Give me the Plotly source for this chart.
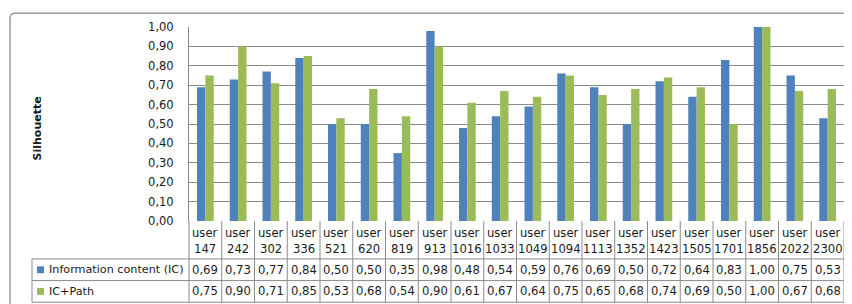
import plotly.graph_objects as go

users = ["147", "242", "302", "336", "521", "620", "819", "913", "1016", "1033",
         "1049", "1094", "1113", "1352", "1423", "1505", "1701", "1856", "2022", "2300"]
categories = ["user " + u for u in users]
ic_values = [0.69, 0.73, 0.77, 0.84, 0.50, 0.50, 0.35, 0.98, 0.48, 0.54,
             0.59, 0.76, 0.69, 0.50, 0.72, 0.64, 0.83, 1.00, 0.75, 0.53]
icpath_values = [0.75, 0.90, 0.71, 0.85, 0.53, 0.68, 0.54, 0.90, 0.61, 0.67,
                 0.64, 0.75, 0.65, 0.68, 0.74, 0.69, 0.50, 1.00, 0.67, 0.68]
series_names = ["Information content (IC)", "IC+Path"]
series_colors = ["#4F81BD", "#9BBB59"]
y_title = "Silhouette"

W, H = 852, 304
PL, PR, PT, PB = 181, 836, 16, 213
FONT = "DejaVu Sans"
GRID = "#8a8a8a"
TXT = "#1a1a1a"
TS = 11.6


def px(x):
    return (x - PL) / (PR - PL)


def py(y):
    return (PB - y) / (PB - PT)


fig = go.Figure()
for name, vals, col in zip(series_names, [ic_values, icpath_values], series_colors):
    fig.add_trace(go.Bar(x=categories, y=vals, name=name, marker_color=col,
                         marker_line_width=0, showlegend=False))

n = len(categories)
shapes = []
# table geometry (pixels)
hdr_bot, r1_bot, r2_bot = 251.5, 273.5, 295.5
tbl_left = 24
for i in range(n + 1):
    shapes.append(dict(type="line", xref="paper", yref="paper",
                       x0=i / n, x1=i / n, y0=py(PB), y1=py(r2_bot),
                       line=dict(color=GRID, width=1)))
for yy in [hdr_bot, r1_bot, r2_bot]:
    shapes.append(dict(type="line", xref="paper", yref="paper",
                       x0=px(tbl_left), x1=1, y0=py(yy), y1=py(yy),
                       line=dict(color=GRID, width=1)))
shapes.append(dict(type="line", xref="paper", yref="paper",
                   x0=px(tbl_left), x1=px(tbl_left), y0=py(hdr_bot), y1=py(r2_bot),
                   line=dict(color=GRID, width=1)))

annotations = []
row_centers = [(hdr_bot + r1_bot) / 2, (r1_bot + r2_bot) / 2]
for r, (name, vals, col) in enumerate(zip(series_names, [ic_values, icpath_values], series_colors)):
    yc = row_centers[r]
    shapes.append(dict(type="rect", xref="paper", yref="paper",
                       x0=px(29), x1=px(36), y0=py(yc - 3.5), y1=py(yc + 3.5),
                       fillcolor=col, line=dict(width=0)))
    annotations.append(dict(text=name, xref="paper", yref="paper", x=px(38.5), y=py(yc),
                            xanchor="left", yanchor="middle", showarrow=False,
                            font=dict(family=FONT, size=11.2, color=TXT)))
    for c, v in zip(categories, vals):
        annotations.append(dict(text=f"{v:.2f}".replace(".", ","), xref="x", yref="paper",
                                x=c, y=py(yc), xanchor="center", yanchor="middle",
                                showarrow=False,
                                font=dict(family=FONT, size=TS, color=TXT)))
for c, u in zip(categories, users):
    annotations.append(dict(text="user", xref="x", yref="paper", x=c, y=py(225),
                            xanchor="center", yanchor="middle", showarrow=False,
                            font=dict(family=FONT, size=TS, color=TXT)))
    annotations.append(dict(text=u, xref="x", yref="paper", x=c, y=py(241),
                            xanchor="center", yanchor="middle", showarrow=False,
                            font=dict(family=FONT, size=TS, color=TXT)))

annotations.append(dict(text="<b>" + y_title + "</b>", xref="paper", yref="paper",
                        x=px(29), y=py(119), textangle=-90, showarrow=False,
                        xanchor="center", yanchor="middle",
                        font=dict(family=FONT, size=11, color=TXT)))

# outer rounded border
x0, x1, y0, y1, rr = px(2), px(849.5), py(2), py(301.5), 5
rx, ry = rr / (PR - PL), rr / (PB - PT)
path = (f"M {x0+rx},{y0} L {x1-rx},{y0} Q {x1},{y0} {x1},{y0-ry} "
        f"L {x1},{y1+ry} Q {x1},{y1} {x1-rx},{y1} L {x0+rx},{y1} "
        f"Q {x0},{y1} {x0},{y1+ry} L {x0},{y0-ry} Q {x0},{y0} {x0+rx},{y0} Z")
shapes.append(dict(type="path", xref="paper", yref="paper", path=path,
                   line=dict(color="#9c9c9c", width=1.5)))

fig.update_layout(
    width=W, height=H,
    margin=dict(l=PL, r=W - PR, t=PT, b=H - PB, pad=0),
    paper_bgcolor="white", plot_bgcolor="white",
    barmode="group", bargap=0.49, bargroupgap=0,
    separators=",.",
    shapes=shapes, annotations=annotations,
    showlegend=False,
    font=dict(family=FONT, color=TXT),
)
fig.update_xaxes(showticklabels=False, showgrid=False, zeroline=False, showline=False,
                 range=[-0.5, n - 0.5])
fig.update_yaxes(range=[0, 1], dtick=0.1, tickformat=".2f", showgrid=True,
                 gridcolor=GRID, gridwidth=1, zeroline=False, showline=True,
                 linecolor=GRID, linewidth=1, ticks="", ticklabelstandoff=12,
                 tickfont=dict(family=FONT, size=11.5, color=TXT))

fig.write_html("out.html")
